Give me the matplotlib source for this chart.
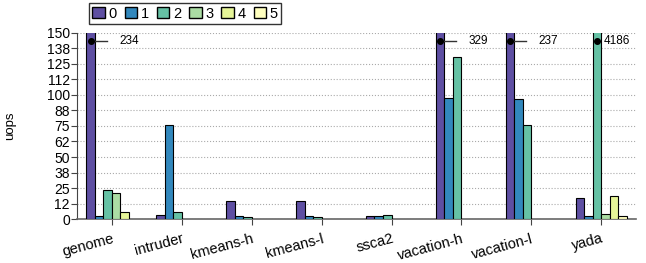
import numpy as np
import matplotlib
matplotlib.use('Agg')
import matplotlib.pyplot as plt
from matplotlib.patches import Patch

plt.rcParams['font.family'] = ['Liberation Sans', 'DejaVu Sans']

benchmarks = ['genome', 'intruder', 'kmeans-h', 'kmeans-l', 'ssca2',
              'vacation-h', 'vacation-l', 'yada']
series = ['0', '1', '2', '3', '4', '5']
# values per series, one entry per benchmark
s0 = [234, 3.0, 14.2, 14.2, 2.2, 329, 237, 16.7]
s1 = [2.2, 75.8, 2.2, 2.2, 2.2, 97.6, 96.8, 2.2]
s2 = [23.1, 5.4, 1.3, 1.3, 3.0, 130.4, 75.8, 4186]
s3 = [20.7, 0, 0, 0, 0, 0, 0, 4.0]
s4 = [5.6, 0, 0, 0, 0, 0, 0, 18.3]
s5 = [0, 0, 0, 0, 0, 0, 0, 2.7]
colors = ['#5e4fa2', '#3288bd', '#66c2a5', '#abdda4', '#e6f598', '#ffffbf']

ymax = 150
yticks = np.arange(0, 151, 12.5)

fig = plt.figure(figsize=(6.46, 2.63), dpi=100)
ax = fig.add_axes([0.119, 0.167, 0.866, 0.708])

x = np.arange(len(benchmarks))
w = 0.122
data = [s0, s1, s2, s3, s4, s5]
for i, vals in enumerate(data):
    vals = np.array(vals, dtype=float)
    vals[vals == 0] = np.nan
    ax.bar(x + (i - 2.5) * w, vals, w, color=colors[i], edgecolor='black',
           linewidth=0.8, zorder=3)
    # mark bars that go off the top
    for j, v in enumerate(vals):
        if v > ymax:
            bx = x[j] + (i - 2.5) * w
            ax.plot(bx, 143.5, 'o', color='black', markersize=4, zorder=5,
                    clip_on=False)
            if v < 1000:
                ax.plot([bx, bx + 0.23], [143.5, 143.5], color='#333333',
                        linewidth=1, zorder=4)
                ax.text(bx + 0.41, 143.5, '%d' % v, fontsize=8.5,
                        va='center', ha='left', zorder=5)
            else:
                ax.text(bx + 0.1, 143.5, '%d' % v, fontsize=8.5,
                        va='center', ha='left', zorder=5)

ax.set_xlim(-0.5, len(benchmarks) - 0.5)
ax.set_ylim(0, ymax)
ax.set_yticks(yticks)
ax.set_yticklabels(['%.0f' % t for t in yticks], fontsize=10)
ax.set_xticks(x)
ax.set_xticklabels(benchmarks, rotation=15, fontsize=10.5, ha='right',
                   rotation_mode='anchor')
ax.set_ylabel('uops', fontsize=9.5, labelpad=22)
ax.yaxis.grid(True, linestyle=':', color='#aaaaaa', linewidth=0.8, zorder=0)
ax.spines['top'].set_visible(False)
ax.spines['right'].set_visible(False)
ax.spines['left'].set_color('#444444')
ax.spines['bottom'].set_color('#666666')
ax.spines['bottom'].set_linewidth(1.2)
ax.tick_params(axis='y', length=4, width=0.8, color='#444444', pad=1)
ax.tick_params(axis='x', length=4, width=0.8, color='#444444', pad=5)

handles = [Patch(facecolor=colors[i], edgecolor='black', label=series[i])
           for i in range(len(series))]
fig.legend(handles=handles, ncol=6, loc='upper left',
           bbox_to_anchor=(0.133, 1.0), fontsize=10.5, frameon=True,
           fancybox=False, edgecolor='black', handlelength=0.85,
           handleheight=0.85, handletextpad=0.25, columnspacing=0.55,
           borderpad=0.25, borderaxespad=0.2)

fig.savefig('out.png', dpi=100)
